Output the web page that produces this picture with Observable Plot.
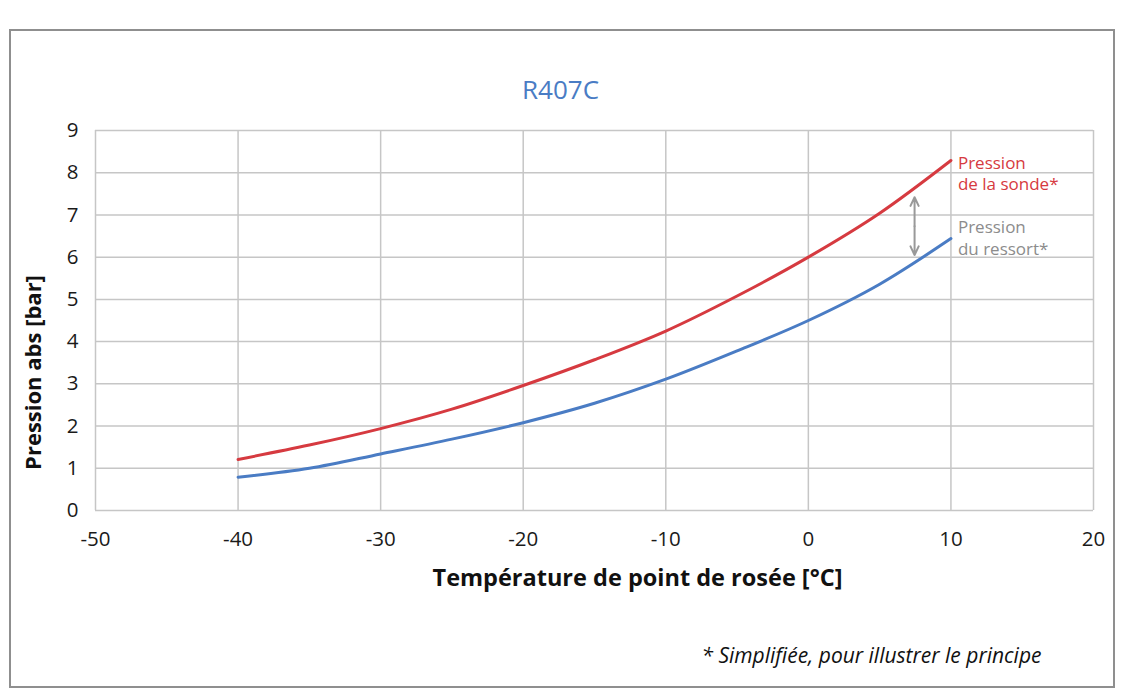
<!DOCTYPE html>
<html>
<head>
<meta charset="utf-8">
<script src="https://cdn.jsdelivr.net/npm/d3@7"></script>
<script src="https://cdn.jsdelivr.net/npm/@observablehq/plot@0.6"></script>
<style>
  html, body { margin: 0; padding: 0; background: #fff; }
  #wrap { position: relative; width: 1133px; height: 695px; }
  #border { position: absolute; left: 9px; top: 29px; width: 1106px; height: 659px; border: 2px solid #8f8f8f; box-sizing: border-box; pointer-events: none; }
  svg { font-family: "Open Sans", "Noto Sans", sans-serif; }
</style>
</head>
<body>
<div id="wrap"><div id="border"></div></div>
<script>
const temps   = [-40, -35, -30, -25, -20, -15, -10, -5, 0, 5, 10];
const sonde   = [1.21, 1.55, 1.94, 2.40, 2.96, 3.57, 4.25, 5.08, 6.0, 7.04, 8.29];
const ressort = [0.79, 1.0, 1.34, 1.69, 2.08, 2.54, 3.11, 3.78, 4.5, 5.36, 6.44];
const xTicks = [-50, -40, -30, -20, -10, 0, 10, 20];
const yTicks = [0, 1, 2, 3, 4, 5, 6, 7, 8, 9];
const arrowT = 7.45, arrowLow = 6.05, arrowHigh = 7.42;

const red = "#d63a40", blue = "#4a7cc4", gray = "#8c8c8c";

const sondeData = temps.map((t, i) => ({t, p: sonde[i]}));
const ressortData = temps.map((t, i) => ({t, p: ressort[i]}));
const mid = (arrowLow + arrowHigh) / 2;

const chart = Plot.plot({
  width: 1133,
  height: 695,
  marginLeft: 95,
  marginRight: 40,
  marginTop: 130,
  marginBottom: 185,
  style: {fontFamily: "'Open Sans', 'Noto Sans', sans-serif", fontSize: "20px", color: "#1a1a1a", background: "transparent"},
  x: {domain: [-50, 20], ticks: xTicks},
  y: {domain: [0, 9], ticks: yTicks},
  marks: [
    Plot.gridX(xTicks, {stroke: "#c6c6c6", strokeOpacity: 1, strokeWidth: 1.5}),
    Plot.gridY(yTicks, {stroke: "#c6c6c6", strokeOpacity: 1, strokeWidth: 1.5}),
    Plot.axisX(xTicks, {tickSize: 0, tickPadding: 21, label: null, fontSize: 20.5, tickFormat: d => String(d).replace("−", "-")}),
    Plot.axisY(yTicks, {tickSize: 0, tickPadding: 17, label: null, fontSize: 20.5}),
    Plot.line(ressortData, {x: "t", y: "p", stroke: blue, strokeWidth: 3, curve: "monotone-x"}),
    Plot.line(sondeData, {x: "t", y: "p", stroke: red, strokeWidth: 3, curve: "monotone-x"}),
    Plot.arrow([{y1: mid, y2: arrowHigh}, {y1: mid, y2: arrowLow}], {x1: arrowT, x2: arrowT, y1: "y1", y2: "y2", stroke: "#999", strokeWidth: 2, headLength: 12, headAngle: 50}),
    Plot.text(["Pression\nde la sonde*"], {x: temps[temps.length-1], y: sonde[sonde.length-1], text: d => d, textAnchor: "start", lineAnchor: "top", dx: 7, dy: -7, fill: red, fontSize: 17, lineHeight: 1.25}),
    Plot.text(["Pression\ndu ressort*"], {x: temps[temps.length-1], y: ressort[ressort.length-1], text: d => d, textAnchor: "start", lineAnchor: "bottom", dx: 7, dy: 16, fill: gray, fontSize: 17, lineHeight: 1.25}),
    Plot.text(["R407C"], {frameAnchor: "top", text: d => d, dx: -34, dy: -50, fill: blue, fontSize: 26}),
    Plot.text(["Pression abs [bar]"], {frameAnchor: "left", textAnchor: "middle", text: d => d, rotate: -90, dx: -62, dy: 52, fontSize: 22, fontWeight: "bold", fill: "#111"}),
    Plot.text(["Température de point de rosée [°C]"], {frameAnchor: "bottom", text: d => d, dx: 43, dy: 75, fontSize: 23.5, fontWeight: "bold", fill: "#111"}),
    Plot.text(["* Simplifiée, pour illustrer le principe"], {frameAnchor: "bottom-right", text: d => d, textAnchor: "end", dx: -52, dy: 152, fontSize: 21, fontStyle: "italic", fill: "#111"})
  ]
});
document.getElementById("wrap").prepend(chart);
</script>
</body>
</html>
